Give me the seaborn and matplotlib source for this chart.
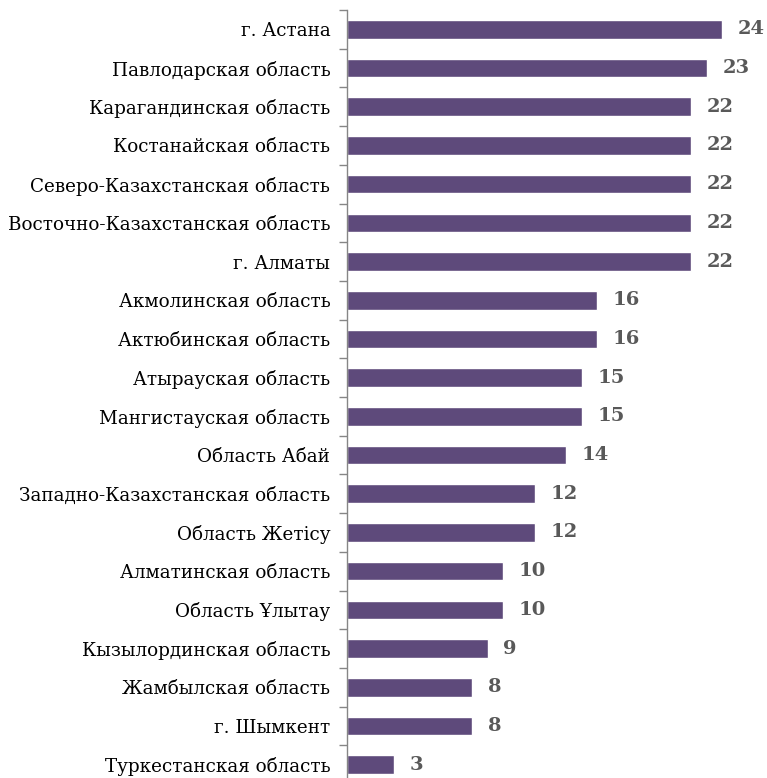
import matplotlib
matplotlib.use("Agg")
import matplotlib.pyplot as plt
import seaborn as sns
import pandas as pd

regions = [
    "г. Астана",
    "Павлодарская область",
    "Карагандинская область",
    "Костанайская область",
    "Северо-Казахстанская область",
    "Восточно-Казахстанская область",
    "г. Алматы",
    "Акмолинская область",
    "Актюбинская область",
    "Атырауская область",
    "Мангистауская область",
    "Область Абай",
    "Западно-Казахстанская область",
    "Область Жетісу",
    "Алматинская область",
    "Область Ұлытау",
    "Кызылординская область",
    "Жамбылская область",
    "г. Шымкент",
    "Туркестанская область",
]
values = [24, 23, 22, 22, 22, 22, 22, 16, 16, 15, 15, 14, 12, 12, 10, 10, 9, 8, 8, 3]

df = pd.DataFrame({"region": regions, "value": values})

sns.set_theme(style="white")
plt.rcParams["font.family"] = ["DejaVu Serif"]

fig = plt.figure(figsize=(7.67, 7.78), dpi=100)
ax = fig.add_axes([0.4524, -0.0077, 0.53, 0.9948])

sns.barplot(data=df, y="region", x="value", orient="h", color="#5e4a7b",
            saturation=1, width=0.48, ax=ax)

for i, v in enumerate(values):
    ax.text(v + 1.0, i, str(v), va="center", ha="left", fontsize=14,
            fontweight="bold", color="#595959")

ax.set_xlim(0, 26)
ax.set_ylim(len(values) - 0.5, -0.5)
ax.set_xlabel("")
ax.set_ylabel("")
ax.set_xticks([])
ax.set_yticks([i - 0.5 for i in range(len(values) + 1)], minor=False)
ax.set_yticklabels([])
ax.set_yticks(range(len(values)), minor=True)
ax.set_yticklabels(regions, minor=True, fontsize=13.2, color="black")
ax.tick_params(axis="y", which="major", length=6, color="#868686", width=1, left=True)
ax.tick_params(axis="y", which="minor", length=0, pad=12)
for s in ["top", "right", "bottom"]:
    ax.spines[s].set_visible(False)
ax.spines["left"].set_color("#868686")
ax.spines["left"].set_linewidth(1)

fig.savefig("out.png", dpi=100)
